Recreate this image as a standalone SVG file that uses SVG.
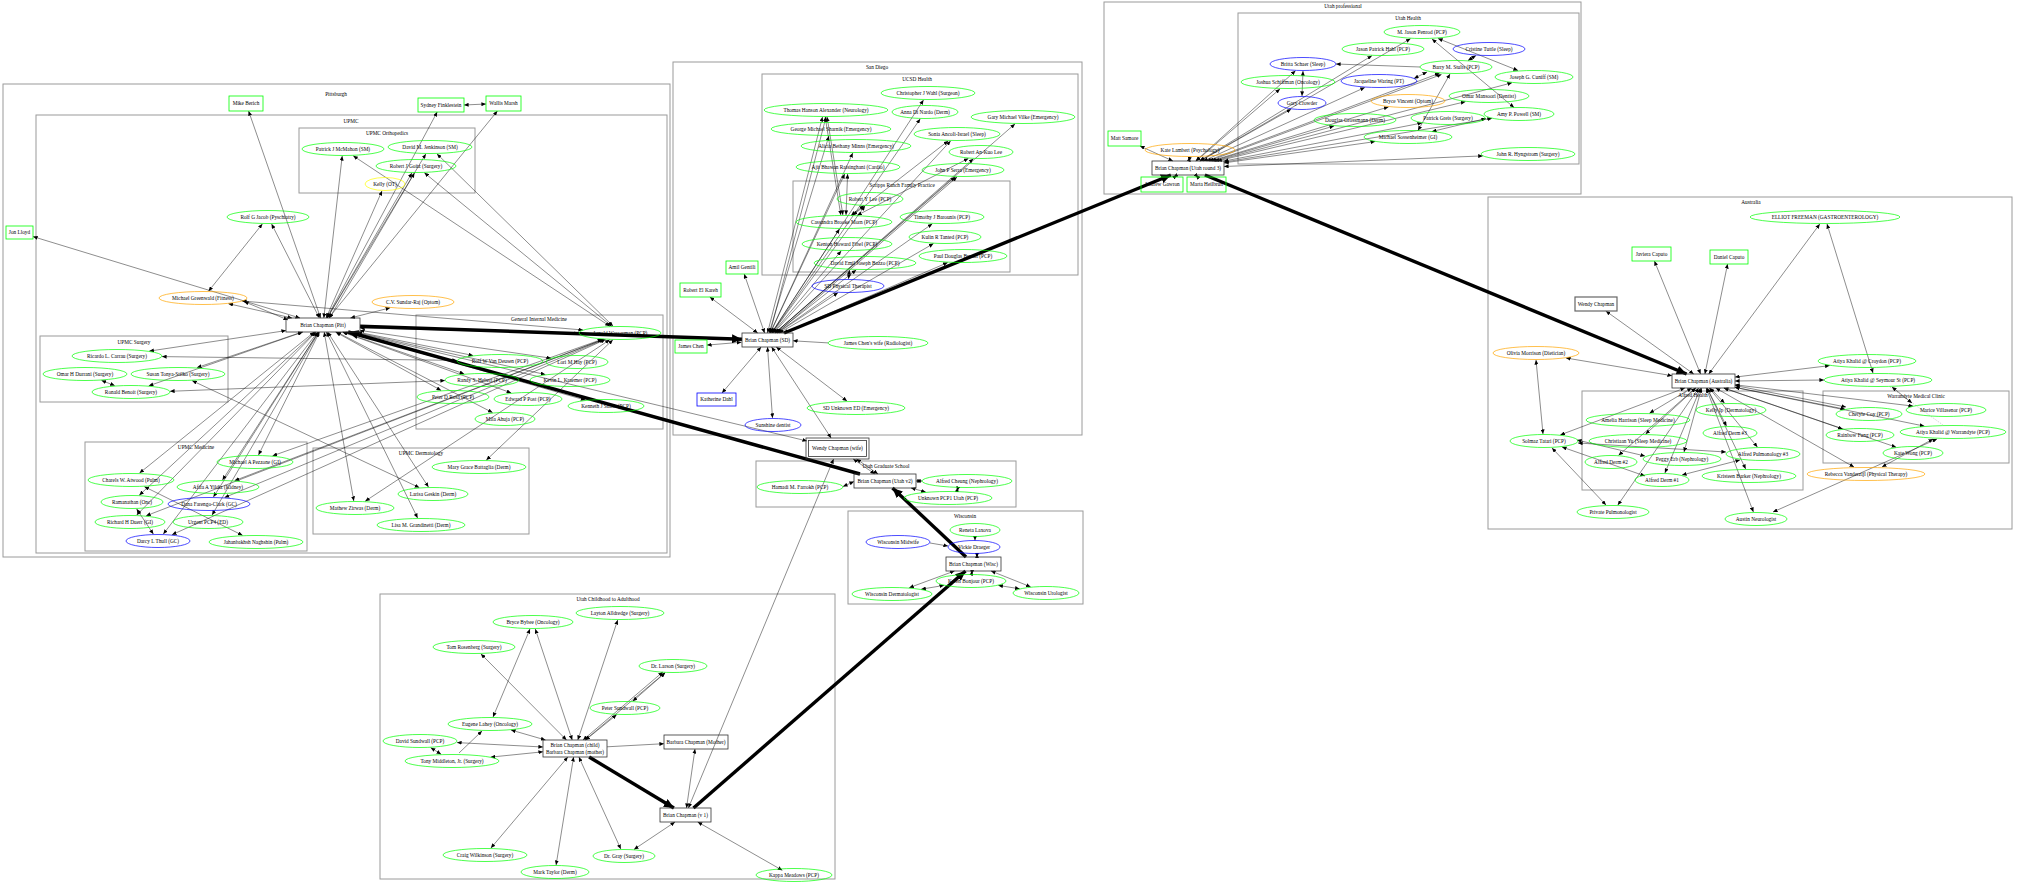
<svg xmlns="http://www.w3.org/2000/svg" width="2018" height="882" viewBox="0 0 2018 882">
<defs>
<marker id="a" markerUnits="userSpaceOnUse" markerWidth="5" markerHeight="4" refX="4.6" refY="2" orient="auto-start-reverse"><path d="M0,0 L4.6,2 L0,4 z" fill="#000"/></marker>
<marker id="A" markerUnits="userSpaceOnUse" markerWidth="11" markerHeight="9" refX="10" refY="4.5" orient="auto"><path d="M0,0 L10,4.5 L0,9 z" fill="#000"/></marker>
</defs>
<style>
.c{fill:none;stroke:#9a9a9a;stroke-width:1}
.g{fill:none;stroke:#00ff00;stroke-width:.7}
.b{fill:none;stroke:#0000ff;stroke-width:.7}
.o{fill:none;stroke:#ffa500;stroke-width:.7}
.y{fill:none;stroke:#ffff00;stroke-width:.7}
.k{fill:#fff;fill-opacity:0;stroke:#333;stroke-width:.8}
.gb{fill:none;stroke:#00ff00;stroke-width:.8}
.bb{fill:none;stroke:#0000ff;stroke-width:.8}
text{font-family:"Liberation Serif","Times New Roman",serif;font-size:5.3px;text-anchor:middle;fill:#000}
.e path{fill:none;stroke:#000;stroke-width:.45;marker-start:url(#a);marker-end:url(#a)}
.e path.s{marker-start:none}
.e path.d{stroke:#888;stroke-dasharray:1 1.2;marker-start:none;marker-end:none}
.e path.t{stroke-width:3.4;marker-start:none;marker-end:url(#A)}
</style>
<rect width="2018" height="882" fill="#fff"/>
<g id="clusters">
<rect class="c" x="3" y="84" width="667" height="473"/><text x="336" y="95.8">Pittsburgh</text>
<rect class="c" x="36" y="115" width="631" height="438"/><text x="351" y="122.8">UPMC</text>
<rect class="c" x="299" y="128" width="176" height="65"/><text x="387" y="134.8">UPMC Orthopedics</text>
<rect class="c" x="416" y="315" width="247" height="114"/><text x="539" y="320.8">General Internal Medicine</text>
<rect class="c" x="40" y="336" width="188" height="66"/><text x="134" y="343.8">UPMC Surgery</text>
<rect class="c" x="85" y="442" width="222" height="109"/><text x="196" y="448.8">UPMC Medicine</text>
<rect class="c" x="313" y="448" width="216" height="86"/><text x="421" y="454.8">UPMC Dermatology</text>
<rect class="c" x="673" y="62" width="409" height="373"/><text x="877" y="68.8">San Diego</text>
<rect class="c" x="762" y="74" width="316" height="201"/><text x="917" y="80.8">UCSD Health</text>
<rect class="c" x="793" y="181" width="217" height="91"/><text x="902" y="186.8">Scripps Ranch Family Practice</text>
<rect class="c" x="756" y="461" width="260" height="46"/><text x="886" y="467.8">Utah Graduate School</text>
<rect class="c" x="848" y="511" width="235" height="93"/><text x="965" y="517.8">Wisconsin</text>
<rect class="c" x="380" y="594" width="455" height="285"/><text x="608" y="600.8">Utah Childhood to Adulthood</text>
<rect class="c" x="1104" y="2" width="477" height="192"/><text x="1343" y="7.8">Utah professional</text>
<rect class="c" x="1238" y="13" width="341" height="151"/><text x="1408" y="19.8">Utah Health</text>
<rect class="c" x="1488" y="197" width="524" height="332"/><text x="1751" y="203.8">Australia</text>
<rect class="c" x="1582" y="391" width="221" height="99"/><text x="1693" y="396.8">Alfred Health</text>
<rect class="c" x="1823" y="391" width="186" height="72"/><text x="1916" y="397.8">Warrandyte Medical Clinic</text>
</g>
<g class="e" id="connectors">
<path d="M320.6,318L248.6,111"/><path d="M319.4,318L271.6,224"/><path d="M208.6,291.1L262.4,223.9"/>
<path d="M292,318L228.4,303.7"/><path d="M288,320L244,301.5"/><path d="M300,318L33,236.6"/>
<path d="M242,301L583,330"/><path d="M323.8,318L342.2,156"/><path d="M326.1,318L382,190.9"/>
<path d="M327.1,318L411.9,173"/><path d="M329.5,318L414.5,173"/><path d="M327.2,318L425.8,154"/>
<path d="M326.8,318L437.2,112"/><path d="M328.7,318L497.4,111"/><path d="M464,105L486,104"/>
<path d="M609.8,326.2L353.2,155.8"/><path d="M613,326.1L437,153.9"/><path d="M611.6,326.2L424.4,172.8"/>
<path d="M350.4,318L390.2,307.8"/><path d="M360,328L579,333.5"/>
<path d="M357.4,332L473.1,355.5"/><path d="M360,330.4L551,358.2"/><path d="M343.2,332L464.2,373.9"/>
<path d="M354.4,332L545.3,374.5"/><path d="M335.6,332L441.1,390.4"/><path d="M342.4,332L511.2,392.9"/>
<path d="M347.5,332L585.4,400.1"/><path d="M336.6,332L492.6,412.6"/>
<path d="M286,330.6L149.3,351.1"/><path d="M302.3,332L197,367.6"/><path d="M302.9,332L148.8,385.8"/>
<path d="M101.5,380.4L114.7,385.6"/><path d="M162,356.6L457,360.4"/><path d="M170,391.3L445,380.6"/>
<path d="M192.2,380.7L419.3,487.6"/>
<path d="M314.3,332L139.5,473.1"/><path d="M315.4,332L139.3,495.2"/><path d="M318.5,332L222.5,480"/>
<path d="M318.5,332L213.4,497"/><path d="M318.9,332L212.1,515"/><path d="M317.7,332L163.3,534.1"/>
<path d="M316.1,332L136.7,515.1"/><path d="M319.5,332L258.5,455"/>
<path d="M144.4,486.7L242.5,535.3"/><path d="M136.6,508.9L153.4,534.1"/>
<path d="M602.2,339.3L272.6,455.8"/><path d="M603.3,339.4L234.7,480.6"/><path d="M604.4,339.5L224.6,497.5"/>
<path d="M603.4,339.4L146.1,515.8"/><path d="M605.5,339.5L172,534.7"/><path d="M609.7,339.8L365.2,501.2"/>
<path d="M612.8,339.9L486.3,460.1"/>
<path d="M324.2,332L353.8,501"/><path d="M327.6,332L428.5,487.1"/><path d="M326.4,332L417.6,518"/>
<path class="s" d="M352.2,332L807,441"/>
<path d="M767.5,333L822.5,117"/><path d="M770,333L826,117"/><path d="M769.1,333L828.9,136"/>
<path d="M770.2,333L852.8,153"/><path d="M770.3,333L844.7,174"/><path d="M771.6,333L923.5,100"/>
<path d="M771.9,333L920.2,118.9"/><path d="M775,333L1015,123.9"/><path d="M773.5,333L950.6,140.9"/>
<path d="M775,333L973.3,158.8"/><path d="M775.1,333L955.1,176.9"/><path d="M777,333L957,177"/>
<path d="M772.1,333L865,205.9"/><path d="M771.6,333L839.5,229"/><path d="M777,333L932.3,223.8"/>
<path d="M772.8,333L841.2,250.9"/><path d="M779.1,333L933.5,243.6"/><path d="M783.3,333L947.7,262.6"/>
<path d="M775.9,333L856.2,269.9"/><path d="M777.5,333L837.9,292.7"/>
<path d="M764.6,333L744.2,274"/><path d="M757.7,333L709.8,297"/><path d="M741.5,342.2L707,345.1"/>
<path class="s" d="M828,342.9L793,340.8"/><path d="M761.1,347L722,393"/><path d="M776.2,347L847,401.1"/>
<path d="M767.5,347L772.5,418"/><path d="M771.6,347L831.1,438"/>
<path d="M842.9,215L827.1,117"/><path d="M840.8,215L825.2,117"/><path d="M846,215L847.6,174"/>
<path d="M852.8,215.1L948.2,140.9"/><path d="M857.2,215.3L968.4,158.4"/><path d="M851,215.5L864,205.5"/>
<path d="M849.5,270L848.5,279"/>
<path d="M1172.9,161L1140,146"/><path d="M1188.8,161.5L1189.8,157"/><path d="M1177,175L1173.8,177.5"/>
<path d="M1195.8,175L1198.1,177.5"/><path d="M1195.7,161L1295.5,70.8"/><path d="M1196.1,161L1280,88.9"/>
<path d="M1200.3,161L1291.1,109.2"/><path d="M1199.5,161L1371.9,55.7"/><path d="M1200,161L1410.5,38.7"/>
<path d="M1203.4,161L1364.8,87.5"/><path d="M1206.6,161L1439.5,73.2"/><path d="M1209,161L1441.5,74.5"/>
<path d="M1214.6,161L1512,82.8"/><path d="M1211,161L1388.5,106.9"/><path d="M1217.3,161L1465.4,101.7"/>
<path d="M1212.4,161L1334.1,126"/><path d="M1224,162.1L1491.9,118.4"/><path d="M1224,161.1L1422,123"/>
<path d="M1224,162.9L1375.1,141.6"/><path d="M1224,166.5L1482.8,155.9"/>
<path d="M1303,71L1302,96"/><path class="s" d="M1420,67L1336,64"/><path d="M1468,60.5L1476,55.5"/>
<path d="M1414,78.5L1427,72"/><path d="M1432,39L1514,107.5"/><path d="M1438,38.5L1518,70.5"/>
<path d="M1450,74L1418,130.5"/><path d="M1432,131.5L1486,118.5"/>
<path d="M1693.7,374L1605.8,311"/><path d="M1700.6,374L1654.4,261"/><path d="M1704.9,374L1727.6,264"/>
<path d="M1708.7,374L1819.8,224"/><path d="M1672,375.7L1566,358"/><path d="M1735,377.1L1829.7,365.6"/>
<path d="M1735,381L1824,380"/><path d="M1684.9,388L1560.3,434.9"/><path d="M1536,360L1543,434"/>
<path d="M1710.1,388L1724.5,403.1"/><path d="M1691.7,388L1649.5,413.2"/><path d="M1707,388L1726.5,426.1"/>
<path d="M1695.9,388L1645.6,434.1"/><path d="M1709.2,388L1757.4,447.1"/><path d="M1701.6,388L1684,452"/>
<path d="M1695.5,388L1618.6,455.3"/><path d="M1700.6,388L1664.9,473"/><path d="M1706.9,388L1745.7,469"/>
<path d="M1698.7,388L1617.8,505.1"/><path d="M1706.2,388L1753.4,512"/><path d="M1715.7,388L1854,467.1"/>
<path d="M1735,387.3L1845,409.2"/><path d="M1735,385.5L1846,407"/><path d="M1723.8,388L1842.6,429"/>
<path d="M1735,384.8L1913,406.1"/><path d="M1735,387.4L1924.3,426.1"/><path d="M1723.9,388L1896.2,447.2"/>
<path d="M1578,443L1726,452"/><path d="M1577,440L1645,456"/><path d="M1562,447L1645,476"/>
<path d="M1552,448L1606,505"/><path d="M1682,475L1740,460"/><path d="M1773,512L1937,439"/>
<path d="M1882,467L1933,439"/><path d="M1827,224L1873,373"/><path class="d" d="M1890,387L1943,425"/>
<path d="M1892,387L1912,403"/>
<path d="M577.8,740L617.7,620"/><path d="M572.2,740L535.3,629"/><path d="M566.5,740L480.9,653.9"/>
<path d="M585.1,740L664.9,672.8"/><path d="M583,740L662.8,672"/><path d="M585.5,740L616.6,714.8"/>
<path d="M545.5,740L511,730"/><path d="M543,747L457,742.6"/><path d="M543,751.8L490.8,757.1"/>
<path d="M567.8,757L490.9,848.1"/><path d="M573.6,757L556.1,865"/><path d="M578.9,757L620.8,849"/>
<path class="s" d="M607,746.8L664,743.7"/><path d="M530,629L493,717"/><path d="M430.7,747.7L441.1,754.2"/>
<path class="s" d="M459,753L482,731"/><path d="M632.8,701.2L665.2,672.8"/>
<path d="M686.5,808L695,749"/><path d="M675,822L634,849.4"/><path d="M697.7,822L782.3,870.3"/>
<path d="M688.4,808L833.6,459"/>
<path d="M977,557.5L977,553.5"/><path class="s" d="M975,536.5L975,540.5"/><path class="s" d="M930,543L948,546"/>
<path d="M972,571L971.5,574.5"/><path d="M954.5,571L909.2,587.7"/><path d="M991,571L1030.6,586.8"/>
<path d="M944,585.4L921.2,589.2"/><path d="M998.3,585.4L1019.7,588.8"/>
<path d="M843,486.6L854,481.5"/><path d="M916,481L922,481"/><path d="M911,488L925.7,492"/>
<path d="M958,487.5L957,491"/><path d="M874.9,474L853.2,459"/><path d="M878,474L856.5,459"/>
<path class="t" d="M360,326.2L742,339.2"/>
<path class="t" d="M860,474L348.2,332"/>
<path class="t" d="M784.1,333L1170.9,175"/>
<path class="t" d="M1204.9,175L1686.6,374"/>
<path class="t" d="M589.1,757L673.9,808"/>
<path class="t" d="M693.5,808L965.5,571"/>
<path class="t" d="M966,557L892.5,488"/>
</g>
<g id="nodes">
<g id="n_pitt"><rect class="k" x="286" y="318" width="74" height="14"/><text x="323" y="326.8">Brian Chapman (Pitt)</text></g>
<g id="n_berich"><rect class="gb" x="229" y="96" width="34" height="15"/><text x="246" y="105.3">Mike Berich</text></g>
<g id="n_lloyd"><rect class="gb" x="6" y="226" width="27" height="13"/><text x="19.5" y="234.3">Jon Lloyd</text></g>
<g id="n_fink"><rect class="gb" x="418" y="98" width="46" height="14"/><text x="441" y="106.8">Sydney Finklestein</text></g>
<g id="n_marsh"><rect class="gb" x="486" y="96" width="35" height="15"/><text x="503.5" y="105.3">Wallis Marsh</text></g>
<g id="n_mcmahon"><ellipse class="g" cx="343" cy="149" rx="41" ry="6.5"/><text x="343" y="150.8">Patrick J McMahon (SM)</text></g>
<g id="n_jenkinson"><ellipse class="g" cx="430" cy="147" rx="42" ry="6.5"/><text x="430" y="148.8">David M. Jenkinson (SM)</text></g>
<g id="n_goitz"><ellipse class="g" cx="416" cy="166" rx="40" ry="6.5"/><text x="416" y="167.8">Robert J Goitz (Surgery)</text></g>
<g id="n_kelly"><ellipse class="y" cx="385" cy="184" rx="20" ry="6.5"/><text x="385" y="185.8">Kelly (OT)</text></g>
<g id="n_jacob"><ellipse class="g" cx="268" cy="217" rx="41" ry="6.5"/><text x="268" y="218.8">Rolf G Jacob (Pyschiatry)</text></g>
<g id="n_greenwald"><ellipse class="o" cx="203" cy="298" rx="44" ry="6.5"/><text x="203" y="299.8">Michael Greenwald (Fitness)</text></g>
<g id="n_sundar"><ellipse class="o" cx="413" cy="302" rx="41" ry="6.5"/><text x="413" y="303.8">C.V. Sundar-Raj (Optom)</text></g>
<g id="n_gim0"><ellipse class="g" cx="620" cy="333" rx="41" ry="6.5"/><text x="620" y="334.8">Arnold Wasserman (PCP)</text></g>
<g id="n_vandeusen"><ellipse class="g" cx="500" cy="361" rx="43" ry="6.5"/><text x="500" y="362.8">Rolf W Van Deusen (PCP)</text></g>
<g id="n_hay"><ellipse class="g" cx="577" cy="362" rx="31" ry="6.5"/><text x="577" y="363.8">Lori M Hay (PCP)</text></g>
<g id="n_hebert"><ellipse class="g" cx="482" cy="380" rx="37" ry="6.5"/><text x="482" y="381.8">Randy S. Hebert (PCP)</text></g>
<g id="n_kraemer"><ellipse class="g" cx="570" cy="380" rx="40" ry="6.5"/><text x="570" y="381.8">Kevin L. Kraemer (PCP)</text></g>
<g id="n_peter"><ellipse class="g" cx="453" cy="397" rx="36" ry="6.5"/><text x="453" y="398.8">Peter D Rosa (PCP)</text></g>
<g id="n_post"><ellipse class="g" cx="528" cy="399" rx="34" ry="6.5"/><text x="528" y="400.8">Edward P Post (PCP)</text></g>
<g id="n_smith"><ellipse class="g" cx="606" cy="406" rx="38" ry="6.5"/><text x="606" y="407.8">Kenneth J Smith (PCP)</text></g>
<g id="n_ahuja"><ellipse class="g" cx="505" cy="419" rx="30" ry="6.5"/><text x="505" y="420.8">Mila Ahuja (PCP)</text></g>
<g id="n_carrau"><ellipse class="g" cx="117" cy="356" rx="45" ry="6.5"/><text x="117" y="357.8">Ricardo L. Carrau (Surgery)</text></g>
<g id="n_durrani"><ellipse class="g" cx="85" cy="374" rx="42" ry="6.5"/><text x="85" y="375.8">Omar H Durrani (Surgery)</text></g>
<g id="n_stilko"><ellipse class="g" cx="178" cy="374" rx="47" ry="6.5"/><text x="178" y="375.8">Susan Tonya-Stilko (Surgery)</text></g>
<g id="n_benoit"><ellipse class="g" cx="131" cy="392" rx="39" ry="6.5"/><text x="131" y="393.8">Ronald Benoit (Surgery)</text></g>
<g id="n_pezzone"><ellipse class="g" cx="255" cy="462" rx="38" ry="6.5"/><text x="255" y="463.8">Michael A Pezzone (GI)</text></g>
<g id="n_atwood"><ellipse class="g" cx="131" cy="480" rx="43" ry="6.5"/><text x="131" y="481.8">Charels W. Atwood (Pulm)</text></g>
<g id="n_yildiz"><ellipse class="g" cx="218" cy="487" rx="41" ry="6.5"/><text x="218" y="488.8">Afifa A Yildiz (Kidney)</text></g>
<g id="n_ramanathan"><ellipse class="g" cx="132" cy="502" rx="31" ry="6.5"/><text x="132" y="503.8">Ramanathan (Onc)</text></g>
<g id="n_farengo"><ellipse class="b" cx="209" cy="504" rx="41" ry="6.5"/><text x="209" y="505.8">Dana Farengo-Clark (GC)</text></g>
<g id="n_duerr"><ellipse class="g" cx="130" cy="522" rx="35" ry="6.5"/><text x="130" y="523.8">Richard H Duerr (GI)</text></g>
<g id="n_pcp4"><ellipse class="g" cx="208" cy="522" rx="35" ry="6.5"/><text x="208" y="523.8">Urgent PCP4 (ED)</text></g>
<g id="n_thull"><ellipse class="b" cx="158" cy="541" rx="32" ry="6.5"/><text x="158" y="542.8">Darcy L Thull (GC)</text></g>
<g id="n_naghshin"><ellipse class="g" cx="256" cy="542" rx="47" ry="6.5"/><text x="256" y="543.8">Jahanbakhsh Naghshin (Pulm)</text></g>
<g id="n_battaglia"><ellipse class="g" cx="479" cy="467" rx="47" ry="6.5"/><text x="479" y="468.8">Mary Grace Battaglia (Derm)</text></g>
<g id="n_geskin"><ellipse class="g" cx="433" cy="494" rx="35" ry="6.5"/><text x="433" y="495.8">Larisa Geskin (Derm)</text></g>
<g id="n_zirwas"><ellipse class="g" cx="355" cy="508" rx="39" ry="6.5"/><text x="355" y="509.8">Mathew Zirwas (Derm)</text></g>
<g id="n_grandinetti"><ellipse class="g" cx="421" cy="525" rx="44" ry="6.5"/><text x="421" y="526.8">Lisa M. Grandinetti (Derm)</text></g>
<g id="n_sd"><rect class="k" x="742" y="333" width="51" height="14"/><text x="767.5" y="341.8">Brian Chapman (SD)</text></g>
<g id="n_wahl"><ellipse class="g" cx="928" cy="93" rx="47" ry="6.5"/><text x="928" y="94.8">Christopher J Wahl (Surgeon)</text></g>
<g id="n_alexander"><ellipse class="g" cx="826" cy="110" rx="62" ry="6.5"/><text x="826" y="111.8">Thomas Hanson Alexander (Neurology)</text></g>
<g id="n_dinardo"><ellipse class="g" cx="925" cy="112" rx="33" ry="6.5"/><text x="925" y="113.8">Anna Di Nardo (Derm)</text></g>
<g id="n_vilke"><ellipse class="g" cx="1023" cy="117" rx="52" ry="6.5"/><text x="1023" y="118.8">Gary Michael Vilke (Emergency)</text></g>
<g id="n_shanaik"><ellipse class="g" cx="831" cy="129" rx="60" ry="6.5"/><text x="831" y="130.8">George Michael Sharnik (Emergency)</text></g>
<g id="n_ancoli"><ellipse class="g" cx="957" cy="134" rx="43" ry="6.5"/><text x="957" y="135.8">Sonia Ancoli-Israel (Sleep)</text></g>
<g id="n_minns"><ellipse class="g" cx="856" cy="146" rx="55" ry="6.5"/><text x="856" y="147.8">Alicia Bethany Minns (Emergency)</text></g>
<g id="n_ralee"><ellipse class="g" cx="981" cy="152" rx="32" ry="6.5"/><text x="981" y="153.8">Robert An-Kuo Lee</text></g>
<g id="n_ajit"><ellipse class="g" cx="848" cy="167" rx="52" ry="6.5"/><text x="848" y="168.8">Ajit Bhawan Raisinghani (Cardio)</text></g>
<g id="n_serra"><ellipse class="g" cx="963" cy="170" rx="41" ry="6.5"/><text x="963" y="171.8">John P Serra (Emergency)</text></g>
<g id="n_rylee"><ellipse class="g" cx="870" cy="199" rx="33" ry="6.5"/><text x="870" y="200.8">Robert Y Lee (PCP)</text></g>
<g id="n_morn"><ellipse class="g" cx="844" cy="222" rx="48" ry="6.5"/><text x="844" y="223.8">Cassandra Brooke Morn (PCP)</text></g>
<g id="n_barounis"><ellipse class="g" cx="942" cy="217" rx="42" ry="6.5"/><text x="942" y="218.8">Timothy J Barounis (PCP)</text></g>
<g id="n_fibel"><ellipse class="g" cx="847" cy="244" rx="45" ry="6.5"/><text x="847" y="245.8">Kenton Howard Fibel (PCP)</text></g>
<g id="n_tanted"><ellipse class="g" cx="945" cy="237" rx="36" ry="6.5"/><text x="945" y="238.8">Kulin R Tanted (PCP)</text></g>
<g id="n_bryant"><ellipse class="g" cx="963" cy="256" rx="44" ry="6.5"/><text x="963" y="257.8">Paul Douglas Bryant (PCP)</text></g>
<g id="n_bazzo"><ellipse class="g" cx="865" cy="263" rx="51" ry="6.5"/><text x="865" y="264.8">David Emil Joseph Bazzo (PCP)</text></g>
<g id="n_sdpt"><ellipse class="b" cx="848" cy="286" rx="36" ry="6.5"/><text x="848" y="287.8">SD Physical Therapist</text></g>
<g id="n_gentili"><rect class="gb" x="726" y="261" width="32" height="13"/><text x="742" y="269.3">Amil Gentili</text></g>
<g id="n_kareh"><rect class="gb" x="680" y="283" width="41" height="14"/><text x="700.5" y="291.8">Robert El Kareh</text></g>
<g id="n_chen"><rect class="gb" x="675" y="340" width="32" height="13"/><text x="691" y="348.3">James Chen</text></g>
<g id="n_chenwife"><ellipse class="g" cx="878" cy="343" rx="50" ry="6.5"/><text x="878" y="344.8">James Chen's wife (Radiologist)</text></g>
<g id="n_dahl"><rect class="bb" x="697" y="393" width="39" height="13"/><text x="716.5" y="401.3">Katherine Dahl</text></g>
<g id="n_sded"><ellipse class="g" cx="856" cy="408" rx="49" ry="6.5"/><text x="856" y="409.8">SD Unknown ED (Emergency)</text></g>
<g id="n_sunshine"><ellipse class="b" cx="773" cy="425" rx="28" ry="6.5"/><text x="773" y="426.8">Sunshine dentist</text></g>
<g id="n_wendy"><rect class="k" x="806" y="438" width="63" height="21"/><rect class="k" x="808.5" y="440.5" width="58" height="16"/><text x="837.5" y="450.3">Wendy Chapman (wife)</text></g>
<g id="n_utahv2"><rect class="k" x="854" y="474" width="62" height="14"/><text x="885" y="482.8">Brian Chapman (Utah v2)</text></g>
<g id="n_farrokh"><ellipse class="g" cx="800" cy="487" rx="43" ry="6.5"/><text x="800" y="488.8">Hamadi M. Farrokh (PCP)</text></g>
<g id="n_cheung"><ellipse class="g" cx="967" cy="481" rx="45" ry="6.5"/><text x="967" y="482.8">Alfred Cheung (Nephrology)</text></g>
<g id="n_pcp1"><ellipse class="g" cx="948" cy="498" rx="44" ry="6.5"/><text x="948" y="499.8">Unknown PCP1 Utah (PCP)</text></g>
<g id="n_laxova"><ellipse class="g" cx="975" cy="530" rx="25" ry="6.5"/><text x="975" y="531.8">Reneta Laxova</text></g>
<g id="n_midwife"><ellipse class="b" cx="898" cy="542" rx="32" ry="6.5"/><text x="898" y="543.8">Wisconsin Midwife</text></g>
<g id="n_draeger"><ellipse class="b" cx="974" cy="547" rx="26" ry="6.5"/><text x="974" y="548.8">Vickie Draeger</text></g>
<g id="n_wisc"><rect class="k" x="946" y="557" width="55" height="14"/><text x="973.5" y="565.8">Brian Chapman (Wisc)</text></g>
<g id="n_bonjour"><ellipse class="g" cx="971" cy="581" rx="35" ry="6.5"/><text x="971" y="582.8">Karen Bonjour (PCP)</text></g>
<g id="n_wderm"><ellipse class="g" cx="892" cy="594" rx="40" ry="6.5"/><text x="892" y="595.8">Wisconsin Dermatologist</text></g>
<g id="n_wuro"><ellipse class="g" cx="1046" cy="593" rx="33" ry="6.5"/><text x="1046" y="594.8">Wisconsin Urologist</text></g>
<g id="n_child"><rect class="k" x="543" y="740" width="64" height="17"/><text x="575" y="747">Brian Chapman (child)</text><text x="575" y="753.6">Barbara Chapman (mother)</text></g>
<g id="n_barbara"><rect class="k" x="664" y="735" width="64" height="14"/><text x="696" y="743.8">Barbara Chapman (Mother)</text></g>
<g id="n_v1"><rect class="k" x="660" y="808" width="51" height="14"/><text x="685.5" y="816.8">Brian Chapman (v 1)</text></g>
<g id="n_alldredge"><ellipse class="g" cx="620" cy="613" rx="44" ry="6.5"/><text x="620" y="614.8">Layton Alldredge (Surgery)</text></g>
<g id="n_bybee"><ellipse class="g" cx="533" cy="622" rx="40" ry="6.5"/><text x="533" y="623.8">Bryce Bybee (Oncology)</text></g>
<g id="n_rosenberg"><ellipse class="g" cx="474" cy="647" rx="41" ry="6.5"/><text x="474" y="648.8">Tom Rosenberg (Surgery)</text></g>
<g id="n_larson"><ellipse class="g" cx="673" cy="666" rx="34" ry="6.5"/><text x="673" y="667.8">Dr. Larson (Surgery)</text></g>
<g id="n_psundwall"><ellipse class="g" cx="625" cy="708" rx="35" ry="6.5"/><text x="625" y="709.8">Peter Sundwall (PCP)</text></g>
<g id="n_lahey"><ellipse class="g" cx="490" cy="724" rx="42" ry="6.5"/><text x="490" y="725.8">Eugene Lahey (Oncology)</text></g>
<g id="n_dsundwall"><ellipse class="g" cx="420" cy="741" rx="37" ry="6.5"/><text x="420" y="742.8">David Sundwall (PCP)</text></g>
<g id="n_middleton"><ellipse class="g" cx="452" cy="761" rx="47" ry="6.5"/><text x="452" y="762.8">Tony Middleton, Jr. (Surgery)</text></g>
<g id="n_wilkinson"><ellipse class="g" cx="485" cy="855" rx="42" ry="6.5"/><text x="485" y="856.8">Craig Wilkinson (Surgery)</text></g>
<g id="n_taylor"><ellipse class="g" cx="555" cy="872" rx="34" ry="6.5"/><text x="555" y="873.8">Mark Taylor (Derm)</text></g>
<g id="n_gray"><ellipse class="g" cx="624" cy="856" rx="31" ry="6.5"/><text x="624" y="857.8">Dr. Gray (Surgery)</text></g>
<g id="n_meadows"><ellipse class="g" cx="794" cy="875" rx="38" ry="6.5"/><text x="794" y="876.8">Kappa Meadows (PCP)</text></g>
<g id="n_utah3"><rect class="k" x="1152" y="161" width="72" height="14"/><text x="1188" y="169.8">Brian Chapman (Utah round 3)</text></g>
<g id="n_samore"><rect class="gb" x="1108" y="131" width="33" height="15"/><text x="1124.5" y="140.3">Matt Samore</text></g>
<g id="n_lambert"><ellipse class="o" cx="1190" cy="150" rx="45" ry="6.5"/><text x="1190" y="151.8">Kate Lambert (Psychology)</text></g>
<g id="n_gawron"><rect class="gb" x="1141" y="177" width="42" height="15"/><text x="1162" y="186.3">Andrew Gawron</text></g>
<g id="n_heilbrun"><rect class="gb" x="1187" y="177" width="39" height="15"/><text x="1206.5" y="186.3">Marta Heilbrun</text></g>
<g id="n_penrod"><ellipse class="g" cx="1422" cy="32" rx="38" ry="6.5"/><text x="1422" y="33.8">M. Jason Penrod (PCP)</text></g>
<g id="n_hahl"><ellipse class="g" cx="1383" cy="49" rx="41" ry="6.5"/><text x="1383" y="50.8">Jason Patrick Hahl (PCP)</text></g>
<g id="n_tuttle"><ellipse class="b" cx="1489" cy="49" rx="36" ry="6.5"/><text x="1489" y="50.8">Cristine Tuttle (Sleep)</text></g>
<g id="n_schaer"><ellipse class="b" cx="1303" cy="64" rx="33" ry="6.5"/><text x="1303" y="65.8">Britta Schaer (Sleep)</text></g>
<g id="n_stults"><ellipse class="g" cx="1456" cy="67" rx="36" ry="6.5"/><text x="1456" y="68.8">Barry M. Stults (PCP)</text></g>
<g id="n_cuniff"><ellipse class="g" cx="1534" cy="77" rx="39" ry="6.5"/><text x="1534" y="78.8">Joseph G. Cuniff (SM)</text></g>
<g id="n_schiffman"><ellipse class="g" cx="1288" cy="82" rx="47" ry="6.5"/><text x="1288" y="83.8">Joshua Schiffman (Oncology)</text></g>
<g id="n_waring"><ellipse class="b" cx="1379" cy="81" rx="38" ry="6.5"/><text x="1379" y="82.8">Jacqueline Waring (PT)</text></g>
<g id="n_mansoori"><ellipse class="g" cx="1489" cy="96" rx="40" ry="6.5"/><text x="1489" y="97.8">Omar Mansoori (Dentist)</text></g>
<g id="n_vincent"><ellipse class="o" cx="1408" cy="101" rx="37" ry="6.5"/><text x="1408" y="102.8">Bryce Vincent (Optom)</text></g>
<g id="n_crowder"><ellipse class="b" cx="1302" cy="103" rx="24" ry="6.5"/><text x="1302" y="104.8">Gary Crowder</text></g>
<g id="n_powell"><ellipse class="g" cx="1519" cy="114" rx="35" ry="6.5"/><text x="1519" y="115.8">Amy P. Powell (SM)</text></g>
<g id="n_greis"><ellipse class="g" cx="1448" cy="118" rx="37" ry="6.5"/><text x="1448" y="119.8">Patrick Greis (Surgery)</text></g>
<g id="n_grossmann"><ellipse class="g" cx="1355" cy="120" rx="41" ry="6.5"/><text x="1355" y="121.8">Douglas Grossmann (Derm)</text></g>
<g id="n_sossen"><ellipse class="g" cx="1408" cy="137" rx="44" ry="6.5"/><text x="1408" y="138.8">Michael Sossenheimer (GI)</text></g>
<g id="n_hyngstrom"><ellipse class="g" cx="1528" cy="154" rx="47" ry="6.5"/><text x="1528" y="155.8">John R. Hyngstrom (Surgery)</text></g>
<g id="n_aus"><rect class="k" x="1672" y="374" width="63" height="14"/><text x="1703.5" y="382.8">Brian Chapman (Australia)</text></g>
<g id="n_freeman"><ellipse class="g" cx="1825" cy="217" rx="75" ry="6.5"/><text x="1825" y="218.8">ELLIOT FREEMAN (GASTROENTEROLOGY)</text></g>
<g id="n_javiera"><rect class="gb" x="1632" y="247" width="39" height="14"/><text x="1651.5" y="255.8">Javiera Caputo</text></g>
<g id="n_daniel"><rect class="gb" x="1710" y="250" width="38" height="14"/><text x="1729" y="258.8">Daniel Caputo</text></g>
<g id="n_wendyau"><rect class="k" x="1575" y="297" width="42" height="14" style="stroke:#666;stroke-width:1.2"/><text x="1596" y="305.8">Wendy Chapman</text></g>
<g id="n_morrison"><ellipse class="o" cx="1536" cy="353" rx="43" ry="6.5"/><text x="1536" y="354.8">Olivia Morrison (Dietician)</text></g>
<g id="n_croydon"><ellipse class="g" cx="1867" cy="361" rx="49" ry="6.5"/><text x="1867" y="362.8">Atiya Khalid @ Croydon (PCP)</text></g>
<g id="n_seymour"><ellipse class="g" cx="1878" cy="380" rx="54" ry="6.5"/><text x="1878" y="381.8">Atiya Khalid @ Seymour St (PCP)</text></g>
<g id="n_kellyderm"><ellipse class="g" cx="1731" cy="410" rx="35" ry="6.5"/><text x="1731" y="411.8">Kelly Ip (Dermatology)</text></g>
<g id="n_harrison"><ellipse class="g" cx="1638" cy="420" rx="52" ry="6.5"/><text x="1638" y="421.8">Amelia Harrison (Sleep Medicine)</text></g>
<g id="n_derm3"><ellipse class="g" cx="1730" cy="433" rx="27" ry="6.5"/><text x="1730" y="434.8">Alfred Derm #3</text></g>
<g id="n_yu"><ellipse class="g" cx="1638" cy="441" rx="49" ry="6.5"/><text x="1638" y="442.8">Christiaan Yu (Sleep Medicine)</text></g>
<g id="n_tatari"><ellipse class="g" cx="1544" cy="441" rx="34" ry="6.5"/><text x="1544" y="442.8">Solmaz Tatari (PCP)</text></g>
<g id="n_pulm3"><ellipse class="g" cx="1763" cy="454" rx="37" ry="6.5"/><text x="1763" y="455.8">Alfred Pulmonology #3</text></g>
<g id="n_erb"><ellipse class="g" cx="1682" cy="459" rx="39" ry="6.5"/><text x="1682" y="460.8">Peggy Erb (Nephrology)</text></g>
<g id="n_derm2"><ellipse class="g" cx="1611" cy="462" rx="26" ry="6.5"/><text x="1611" y="463.8">Alfred Derm #2</text></g>
<g id="n_derm1"><ellipse class="g" cx="1662" cy="480" rx="27" ry="6.5"/><text x="1662" y="481.8">Alfred Derm #1</text></g>
<g id="n_barker"><ellipse class="g" cx="1749" cy="476" rx="47" ry="6.5"/><text x="1749" y="477.8">Kristeen Barker (Nephrology)</text></g>
<g id="n_privpulm"><ellipse class="g" cx="1613" cy="512" rx="36" ry="6.5"/><text x="1613" y="513.8">Private Pulmonologist</text></g>
<g id="n_austin"><ellipse class="g" cx="1756" cy="519" rx="31" ry="6.5"/><text x="1756" y="520.8">Austin Neurologist</text></g>
<g id="n_rebecca"><ellipse class="o" cx="1866" cy="474" rx="59" ry="6.5"/><text x="1866" y="475.8">Rebecca Vanderzijl (Physical Therapy)</text></g>
<g id="n_villasenor"><ellipse class="g" cx="1946" cy="410" rx="40" ry="6.5"/><text x="1946" y="411.8">Marice Villasenor (PCP)</text></g>
<g id="n_coy"><ellipse class="g" cx="1869" cy="414" rx="33" ry="6.5"/><text x="1869" y="415.8">Cheryle Coy (PCP)</text></g>
<g id="n_fung"><ellipse class="g" cx="1860" cy="435" rx="34" ry="6.5"/><text x="1860" y="436.8">Rainbow Fung (PCP)</text></g>
<g id="n_warrandyte"><ellipse class="g" cx="1953" cy="432" rx="53" ry="6.5"/><text x="1953" y="433.8">Atiya Khalid @ Warrandyte (PCP)</text></g>
<g id="n_kate"><ellipse class="g" cx="1913" cy="453" rx="30" ry="6.5"/><text x="1913" y="454.8">Kate Wong (PCP)</text></g>
</g>
</svg>
